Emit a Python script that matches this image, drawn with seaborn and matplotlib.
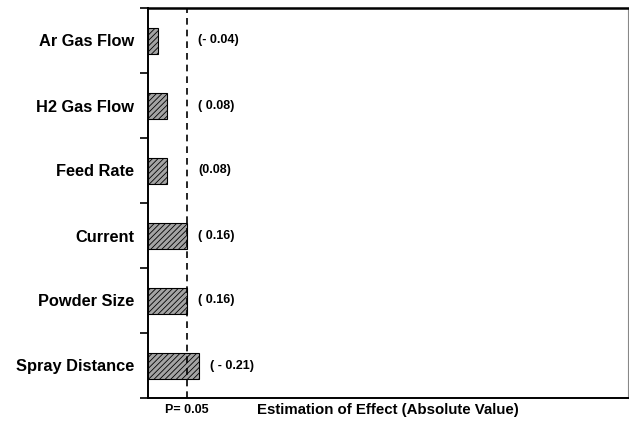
import numpy as np
import pandas as pd
import seaborn as sns
import matplotlib.pyplot as plt

# data
factors = ['Ar Gas Flow', 'H2 Gas Flow', 'Feed Rate', 'Current', 'Powder Size', 'Spray Distance']
effects = [0.04, 0.08, 0.08, 0.16, 0.16, 0.21]
effect_labels = ['(- 0.04)', '( 0.08)', '(0.08)', '( 0.16)', '( 0.16)', '( - 0.21)']
p_threshold = 0.16

df = pd.DataFrame({'Factor': factors, 'Effect': effects})

sns.set_style('white')
plt.rcParams['font.family'] = ['Liberation Sans', 'DejaVu Sans']
plt.rcParams['text.color'] = 'black'
plt.rcParams['ytick.color'] = 'black'
plt.rcParams['hatch.linewidth'] = 0.6
plt.rcParams['hatch.color'] = '#2a2a2a'

fig = plt.figure(figsize=(6.29, 4.22), dpi=100)
ax = fig.add_axes([148 / 629, 24 / 422, 480 / 629, 390 / 422])

sns.barplot(data=df, y='Factor', x='Effect', orient='h', ax=ax, width=0.4,
            color='#a4a4a4', edgecolor='black', linewidth=0.8, saturation=1)
for p in ax.patches:
    p.set_hatch('//////')

ax.set_xlim(0, 1.97)
ax.set_ylim(5.5, -0.5)

# threshold line
ax.axvline(p_threshold, color='black', linestyle=(0, (4, 3)), linewidth=1.2)

# value labels
for i, (v, lab) in enumerate(zip(effects, effect_labels)):
    x = max(v, p_threshold)
    ax.annotate(lab, xy=(x, i), xytext=(8, 0),
                textcoords='offset points', va='center', ha='left',
                fontsize=9, fontweight='bold')

# category labels without ticks, boundary ticks as minor
ax.set_yticks(range(len(factors)))
ax.set_yticklabels(factors, fontsize=11.8, fontweight='bold')
ax.tick_params(axis='y', which='major', length=0, pad=10)
ax.set_yticks(np.arange(-0.5, len(factors), 1.0), minor=True)
ax.tick_params(axis='y', which='minor', length=6, width=1.2, direction='out', left=True)

ax.set_xticks([])
ax.set_xlabel('')
ax.set_ylabel('')

for s in ['left', 'bottom']:
    ax.spines[s].set_linewidth(1.4)
    ax.spines[s].set_color('black')
ax.spines['top'].set_linewidth(1.8)
ax.spines['top'].set_color('black')
ax.spines['right'].set_linewidth(0.8)
ax.spines['right'].set_color('#888888')

ax.annotate('P= 0.05', xy=(p_threshold, 0), xycoords=('data', 'axes fraction'),
            xytext=(0, -8.5), textcoords='offset points', ha='center', va='center',
            fontsize=9, fontweight='bold')
ax.text(0.5, -0.03, 'Estimation of Effect (Absolute Value)', transform=ax.transAxes,
        ha='center', va='center', fontsize=10.8, fontweight='bold')

fig.savefig('out.png', dpi=100, facecolor='white')
